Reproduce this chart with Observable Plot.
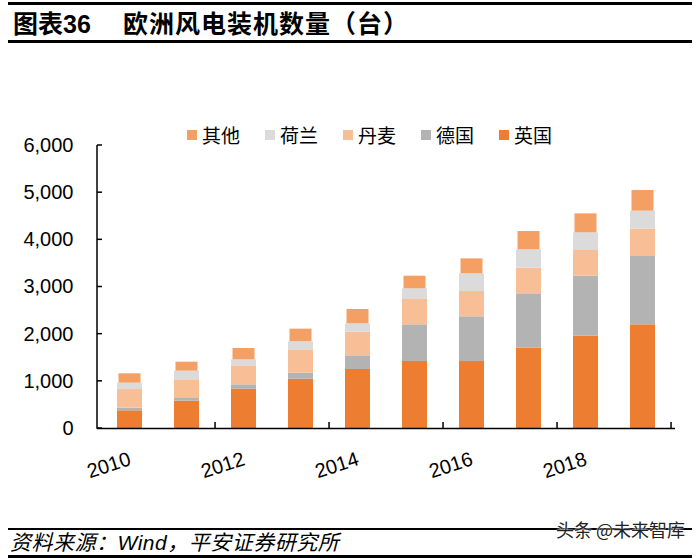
<!DOCTYPE html>
<html><head><meta charset="utf-8">
<script src="https://cdn.jsdelivr.net/npm/d3@7"></script>
<script src="https://cdn.jsdelivr.net/npm/@observablehq/plot@0.6"></script>
<style>
body{margin:0;background:#fff;}
#wrap{position:relative;width:700px;height:558px;overflow:hidden;font-family:"Liberation Sans","Noto Sans CJK SC",sans-serif;color:#000;}
.rule{position:absolute;left:8px;width:684px;background:#000;}
#chart{position:absolute;left:0;top:0;}
#t1{position:absolute;left:13px;top:10px;font-size:25px;line-height:28px;font-weight:bold;white-space:nowrap;}
#t2{position:absolute;left:123px;top:10px;font-size:25px;line-height:28px;font-weight:bold;white-space:nowrap;letter-spacing:1px;}
#legend{position:absolute;left:187px;top:123px;display:flex;align-items:center;font-family:"Noto Sans CJK SC",sans-serif;font-size:19px;line-height:24px;white-space:nowrap;}
#legend .it{display:flex;align-items:center;margin-right:25px;}
#legend .sw{width:10px;height:10px;margin-right:5px;}
#source{position:absolute;left:10px;top:530px;font-size:21px;line-height:26px;font-style:italic;white-space:nowrap;letter-spacing:0.5px;}
#wm{position:absolute;left:556px;top:517px;font-family:"Noto Sans CJK SC",sans-serif;font-size:18px;line-height:24px;color:#222;white-space:nowrap;text-shadow:0 0 2px #fff,0 0 2px #fff;}
</style></head><body>
<div id="wrap">
 <div id="chart"></div>
 <div class="rule" style="top:2px;height:3px"></div>
 <div id="t1">图表36</div>
 <div id="t2">欧洲风电装机数量（台）</div>
 <div class="rule" style="top:40px;height:3px"></div>
 <div id="legend"></div>
 <div class="rule" style="top:528px;height:2px"></div>
 <div id="source">资料来源：Wind，平安证券研究所</div>
 <div class="rule" style="top:555px;height:3px"></div>
 <div id="wm">头条 @未来智库</div>
</div>
<script>
const years = [2010, 2011, 2012, 2013, 2014, 2015, 2016, 2017, 2018, 2019];
const series = ["英国", "德国", "丹麦", "荷兰", "其他"]; // bottom to top
const legendOrder = ["其他", "荷兰", "丹麦", "德国", "英国"];
const colors = ["#ED7D31", "#B3B3B3", "#F8BF97", "#DBDBDB", "#F4A064"];
const uk    = [375, 580, 833, 1046, 1251, 1420, 1420, 1703, 1957, 2198];
const de    = [56, 56, 93, 127, 290, 778, 948, 1152, 1272, 1449];
const dk    = [395, 396, 403, 495, 501, 537, 536, 544, 545, 579];
const nl    = [135, 183, 127, 170, 177, 226, 375, 389, 374, 381];
const other = [199, 191, 240, 268, 304, 268, 318, 388, 403, 439];
const yTicks = [0, 1000, 2000, 3000, 4000, 5000, 6000];
const xLabels = [2010, 2012, 2014, 2016, 2018];

const seriesValues = [uk, de, dk, nl, other];
const rows = [];
years.forEach((yr, i) => {
  let base = 0;
  series.forEach((s, j) => {
    const v = seriesValues[j][i];
    rows.push({year: yr, series: s, y1: base, y2: base + v});
    base += v;
  });
});

const padInner = 0.56;

function axisLines(index, scales, values, dims) {
  const {height, marginLeft, marginBottom} = dims;
  const g = d3.create("svg:g").attr("stroke", "#000").attr("stroke-width", 1.5).attr("fill", "none");
  const left = marginLeft, bottom = height - marginBottom;
  g.append("line").attr("x1", left).attr("x2", left).attr("y1", scales.y(yTicks[yTicks.length - 1])).attr("y2", bottom + 0.75);
  yTicks.forEach(v => g.append("line").attr("x1", left).attr("x2", left + 5).attr("y1", scales.y(v)).attr("y2", scales.y(v)));
  const step = scales.x(years[1]) - scales.x(years[0]);
  const bounds = [];
  for (let i = 2; i < years.length; i += 2) bounds.push(scales.x(years[i]) - step * padInner / 2);
  bounds.push(scales.x(years[years.length - 1]) + step - step * padInner / 2);
  bounds.forEach(bx => g.append("line").attr("x1", bx).attr("x2", bx).attr("y1", bottom).attr("y2", bottom - 6));
  return g.node();
}

const plot = Plot.plot({
  width: 700, height: 558,
  marginTop: 145, marginBottom: 130, marginLeft: 97, marginRight: 25,
  style: {fontFamily: '"Liberation Sans", Arial, sans-serif', fontSize: "20px", color: "#000", background: "transparent"},
  x: {type: "band", domain: years, paddingInner: padInner, paddingOuter: padInner / 2, label: null},
  y: {domain: [0, 6000], label: null},
  color: {domain: series, range: colors},
  marks: [
    Plot.barY(rows.filter(r => r.series !== "其他"), {x: "year", y1: "y1", y2: "y2", fill: "series"}),
    Plot.barY(rows.filter(r => r.series === "其他"), {x: "year", y1: "y1", y2: "y2", fill: "series", insetLeft: 1.5, insetRight: 1.5}),
    Plot.ruleY([0], {stroke: "#000", strokeWidth: 1.5}),
    Plot.axisY(yTicks, {tickSize: 0, tickPadding: 24, tickFormat: d3.format(","), fontSize: 20, label: null}),
    Plot.axisX(xLabels, {tickSize: 0, tickPadding: 30, tickRotate: -18, tickFormat: d => String(d), fontSize: 20, label: null}),
    axisLines
  ]
});
document.getElementById("chart").appendChild(plot);

const leg = document.getElementById("legend");
legendOrder.forEach(s => {
  const it = document.createElement("div");
  it.className = "it";
  const sw = document.createElement("div");
  sw.className = "sw";
  sw.style.background = colors[series.indexOf(s)];
  const tx = document.createElement("span");
  tx.textContent = s;
  it.appendChild(sw); it.appendChild(tx);
  leg.appendChild(it);
});
</script>
</body></html>
